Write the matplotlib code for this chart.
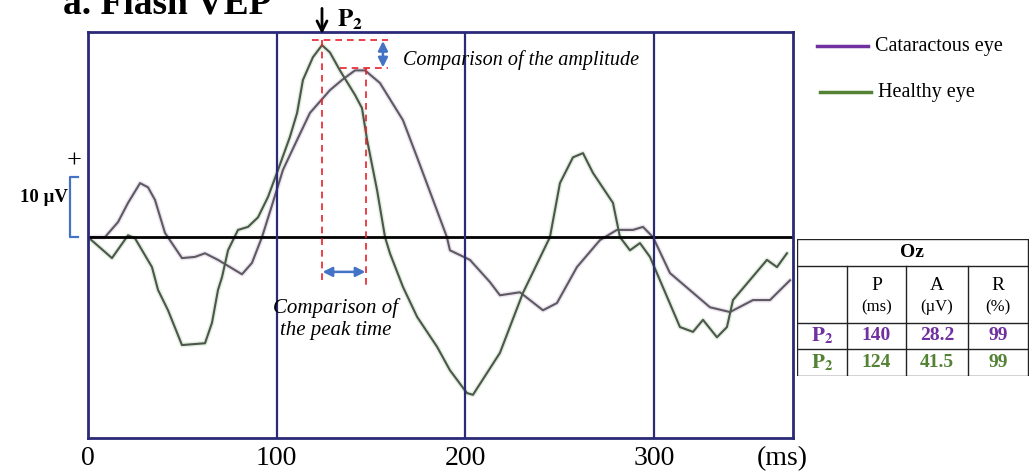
import matplotlib.pyplot as plt
import numpy as np
from matplotlib.lines import Line2D
import matplotlib.transforms as mtransforms

plt.rcParams['font.family'] = ['Liberation Serif', 'DejaVu Serif']
plt.rcParams['mathtext.fontset'] = 'stix'

# traces (time in ms, amplitude in uV)
healthy_t = [0, 12.7, 21.2, 24.9, 33.9, 37.1, 42.4, 49.8, 62.0, 65.7, 68.9, 71.0, 74.2, 79.5,
             84.8, 90.1, 95.4, 100.7, 107.0, 110.8, 113.9, 119.2, 124.0, 128.2, 133.5, 141.5,
             145.2, 147.9, 153.2, 157.4, 160.0, 166.9, 174.4, 185.0, 191.8, 200.8, 204.0, 218.3,
             230.5, 244.8, 250.1, 257.0, 262.3, 267.6, 278.2, 281.9, 287.2, 292.5, 297.8, 303.1,
             313.7, 320.6, 325.9, 333.3, 338.6, 341.8, 359.8, 365.1, 370.4]
healthy_v = [0, -3.5, 0.3, -0.2, -5.0, -8.8, -12.2, -18.0, -17.7, -14.3, -8.8, -6.7, -2.2, 1.2,
             1.7, 3.3, 6.7, 11.2, 16.7, 20.7, 26.2, 30.0, 32.0, 30.8, 27.8, 23.7,
             21.5, 16.2, 7.8, 0, -2.7, -8.3, -13.3, -18.3, -22.2, -26.0, -26.3, -19.3,
             -9.3, 0, 9.0, 13.3, 14.0, 10.7, 5.7, 0, -2.2, -1.0, -3.3, -7.2,
             -15.0, -15.8, -13.8, -16.7, -15.0, -10.5, -3.8, -5.0, -2.7]

catar_t = [0, 9.0, 15.9, 21.2, 27.6, 31.8, 35.5, 40.8, 49.8, 56.7, 62.0, 68.9, 81.6, 86.9,
           92.2, 97.5, 103.3, 110.8, 117.6, 128.2, 134.6, 141.5, 146.8, 154.7, 166.9, 174.4,
           190.2, 191.8, 197.1, 202.4, 213.0, 218.3, 228.9, 241.1, 248.5, 259.1, 271.3, 280.3,
           288.8, 294.1, 299.4, 308.4, 329.6, 340.2, 352.4, 361.4, 372.0]
catar_v = [0, 0, 2.5, 5.7, 9.0, 8.3, 6.2, 0.7, -3.5, -3.3, -2.7, -3.8, -6.2, -4.3,
           0, 5.3, 11.2, 16.2, 20.7, 24.5, 26.2, 27.8, 27.8, 25.7, 19.5, 13.3,
           0, -2.2, -3.0, -3.8, -7.5, -9.7, -9.2, -12.2, -11.0, -5.0, -0.5, 1.2,
           1.2, 1.7, 0, -6.0, -11.7, -12.5, -10.5, -10.5, -7.2]

xticks = [0, 100, 200, 300]

table_cols = ['P\n(ms)', 'A\n(\u00b5V)', 'R\n(%)']
table_rows = ['140', '28.2', '99'], ['124', '41.5', '99']
row_colors = ['#7030a0', '#548235']

navy = '#2b2a78'
fig = plt.figure(figsize=(10.29, 4.75), dpi=100)
ax = fig.add_axes([88 / 1029, 37 / 475, 705 / 1029, 406 / 475])
ax.set_xlim(0, 373.6)
ax.set_ylim(-33.5, 34.2)

ax.plot(catar_t, catar_v, color='#ece4f0', lw=3.5, solid_capstyle='round')
ax.plot(healthy_t, healthy_v, color='#e0f0dc', lw=3.5, solid_capstyle='round')
ax.plot(catar_t, catar_v, color='#5e5a62', lw=1.5)
ax.plot(healthy_t, healthy_v, color='#4e544e', lw=1.5)

ax.axhline(0, color='black', lw=2)
for xv in xticks[1:]:
    ax.axvline(xv, color=navy, lw=1.6)
for s in ax.spines.values():
    s.set_color(navy)
    s.set_linewidth(2)
ax.set_yticks([])
ax.set_xticks(xticks)
ax.set_xticklabels([str(v) for v in xticks], fontsize=20)
ax.tick_params(axis='x', length=0, pad=6)
ax.text(367.8, -0.05, '(ms)', transform=mtransforms.blended_transform_factory(ax.transData, ax.transAxes),
        ha='center', va='center', fontsize=20, color='black')

# annotations: dashed peak guides and blue arrows
red = '#e8202a'
blue = '#4472c4'
ax.plot([118.7, 159], [32.8, 32.8], ls='--', color=red, lw=1.2, dashes=(4, 3))
ax.plot([133.5, 159], [28.2, 28.2], ls='--', color=red, lw=1.2, dashes=(4, 3))
ax.plot([124, 124], [32.8, -8], ls='--', color=red, lw=1.2, dashes=(4, 3))
ax.plot([147.3, 147.3], [28.2, -8], ls='--', color=red, lw=1.2, dashes=(4, 3))
ax.annotate('', xy=(156.3, 32.7), xytext=(156.3, 28.3),
            arrowprops=dict(arrowstyle='<|-|>', color=blue, lw=1.8, mutation_scale=14,
                            shrinkA=0, shrinkB=0))
ax.annotate('', xy=(124.3, -5.8), xytext=(147.0, -5.8),
            arrowprops=dict(arrowstyle='<|-|>', color=blue, lw=1.8, mutation_scale=14,
                            shrinkA=0, shrinkB=0))
ax.text(167, 29.6, 'Comparison of the amplitude', style='italic', fontsize=14.5,
        ha='left', va='center')
ax.text(131, -13.6, 'Comparison of\nthe peak time', style='italic', fontsize=15,
        ha='center', va='center', linespacing=1.2)

# P2 arrow
ax.annotate('', xy=(124, 33.4), xytext=(124, 38.6), annotation_clip=False,
            arrowprops=dict(arrowstyle='->', color='black', lw=2, mutation_scale=18))
fig.text(337 / 1029, 1 - 20 / 475, r'$\mathbf{P}_{\mathbf{2}}$', fontsize=18, ha='left', va='center')

# 10 uV bracket
bt = mtransforms.blended_transform_factory(ax.transAxes, ax.transData)
ax.add_line(Line2D([-0.0140, -0.0255, -0.0255, -0.0140], [10, 10, 0, 0], transform=bt,
                   color=blue, lw=1.6, clip_on=False))
fig.text(74 / 1029, 1 - 162 / 475, '+', fontsize=19, ha='center', va='center')
fig.text(44 / 1029, 1 - 198 / 475, '10 \u00b5V', fontsize=13.5, fontweight='bold',
         ha='center', va='center')

# title (cut off at the top like the source)
fig.text(63 / 1029, 1 - 13 / 475, 'a. Flash VEP', fontsize=27, fontweight='bold',
         ha='left', va='baseline')

# legend
for yy, col, lab, x0 in [(46, '#7030a0', 'Cataractous eye', 817), (92, '#548235', 'Healthy eye', 820)]:
    fig.add_artist(Line2D([x0 / 1029, (x0 + 51) / 1029], [1 - yy / 475, 1 - yy / 475],
                          color=col, lw=2.5))
    fig.text((x0 + 58) / 1029, 1 - yy / 475, lab, fontsize=14.5, ha='left', va='center')

# table
tax = fig.add_axes([797 / 1029, (475 - 376) / 475, 232 / 1029, 137 / 475])
tax.set_xlim(0, 232)
tax.set_ylim(137, 0)
tax.axis('off')
colx = [0, 50, 109, 171, 231]
rowy = [0, 27, 84, 110, 137]
lk = dict(color='#222222', lw=1)
for yv in rowy:
    tax.plot([0, 231], [yv, yv], **lk)
tax.plot([0, 0], [0, 137], **lk)
tax.plot([231, 231], [0, 137], **lk)
for xv in colx[1:4]:
    tax.plot([xv, xv], [27, 137], **lk)
tax.text(115, 13.5, 'Oz', fontsize=14, fontweight='bold', ha='center', va='center')
for i, lab in enumerate(table_cols):
    cx = (colx[i + 1] + colx[i + 2]) / 2
    top, bot = lab.split('\n')
    tax.text(cx, 46, top, fontsize=14, ha='center', va='center')
    tax.text(cx, 68, bot, fontsize=12, ha='center', va='center')
for r, vals in enumerate(table_rows):
    cy = (rowy[r + 2] + rowy[r + 3]) / 2
    tax.text(25, cy, r'$\mathbf{P}_{\mathbf{2}}$', fontsize=15, color=row_colors[r],
             ha='center', va='center')
    for i, v in enumerate(vals):
        cx = (colx[i + 1] + colx[i + 2]) / 2
        tax.text(cx, cy, v, fontsize=14, fontweight='bold', color=row_colors[r],
                 ha='center', va='center')

fig.savefig('out.png', dpi=100)
